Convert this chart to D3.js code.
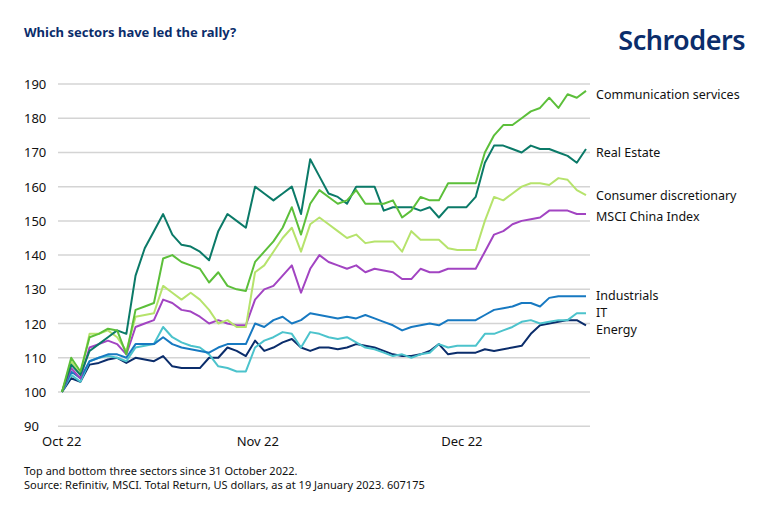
<!DOCTYPE html>
<meta charset="utf-8">
<head>
    <title>Which sectors have led the rally?</title>
    <script src="https://cdn.jsdelivr.net/npm/d3@7"></script>
</head>
<style>
    body { margin:0; background:#fff; font-family:"Noto Sans", "Open Sans", sans-serif; }
    .grid line { stroke:#d4d4d4; stroke-width:1.5; }
</style>
<body>
<svg id="chart" width="770" height="511"></svg>
<script>
    var seriesNames = ["Communication services","Real Estate","Consumer discretionary","MSCI China Index","Industrials","IT","Energy"];
    var seriesColors = ["#5cbf3a","#0b7a68","#b6e36c","#a244c2","#1779c1","#4cc3cc","#0b2d6b"];
    var comm = [100,110,106,116,117,118.5,118,111,124,125,126,139,140,138,137,136,132,135,131,130,129.5,138,141,144,148,154,146,155,159,157,155,156,159,155,155,155,156,151,153,157,156,156,161,161,161,161,170,175,178,178,180,182,183,186,183,187,186,188];
    var realEstate = [100,108,105,112,114,116,118,117,134,142,147,152,146,143,142.5,141,138.5,147,152,150,148,160,158,156,158,160,152,168,163,158,157,155,160,160,160,153,154,154,154,153,154,151,154,154,154,157,167,172,172,171,170,172,171,171,170,169,167,171];
    var consDisc = [100,109,105,117,117,118,116,112,122,122.5,123,131,129,127,129,127,124,120,121,119,119,135,137,141,145,148,141,149,151,149,147,145,146,143.5,144,144,144,141,147,144.5,144.5,144.5,142,141.5,141.5,141.5,150,157,156,158,160,161,161,160.5,162.5,162,159,157.5];
    var msci = [100,107,104,113,114,115,114,111,119,120,121,127,126,124,123.5,122,120,121,120,119.5,119.5,127,130,131,134,137,129,136,140,138,137,136,137,135,136,135.5,135,133,133,136,135,135,136,136,136,136,141,146,147,149,150,150.5,151,153,153,153,152,152];
    var industrials = [100,106,104,109,110,111,111,110,114,114,114,116,114,113,112.5,112,111.5,113,114,114,114,120,119,121,122,120,121,123,122.5,122,121.5,122,121.5,122.5,121.5,120.5,119.5,118,119,119.5,120,119.5,121,121,121,121,122.5,124,124.5,125,126,126,125,127.5,128,128,128,128];
    var it = [100,105,103,109,110,110.5,110,109,113,113.5,114,119,116,114.5,113.5,113,111,107.5,107,106,106,113,115,116,117.5,117,113,117.5,117,116,115.5,116,114.5,113,112.5,111.5,110.5,111,110,111,111.5,114,113,113.5,113.5,113.5,117,117,118,119,120.5,121,120,120.5,121,121,123,123];
    var energy = [100,104,103,108,108.5,109.5,110,108.5,110,109.5,109,110.5,107.5,107,107,107,110,110,113,112,110.5,115,112,113,114.5,115.5,113,112,113,113,112.5,113,114,113.5,113,112,111,110.5,110.5,111,112,114,111,111.5,111.5,111.5,112.5,112,112.5,113,113.5,117,119.5,120,120.5,121,121,119.5];
    var seriesValues = [comm, realEstate, consDisc, msci, industrials, it, energy];
    var labelYs = [94, 152, 195, 216, 295, 312, 329];
    var yTicks = [90,100,110,120,130,140,150,160,170,180,190];
    var xTickIdx = [0, 21.3, 43.5];
    var xTickLabels = ["Oct 22","Nov 22","Dec 22"];

    var svg = d3.select("#chart");
    var x = d3.scaleLinear().domain([0, comm.length - 1]).range([62, 586]);
    var y = d3.scaleLinear().domain([100, 190]).range([392, 84]);

    // gridlines + y labels
    var g = svg.append("g").attr("class", "grid");
    g.selectAll("line").data(yTicks).enter().append("line")
        .attr("x1", 58).attr("x2", 590)
        .attr("y1", function(d){ return y(d); }).attr("y2", function(d){ return y(d); });
    svg.selectAll(".ylab").data(yTicks).enter().append("text")
        .attr("x", 24).attr("y", function(d){ return y(d) + 5; })
        .attr("font-size", 13).attr("fill", "#111").text(function(d){ return d; });

    svg.selectAll(".xlab").data(xTickIdx).enter().append("text")
        .attr("x", function(d){ return x(d); }).attr("y", 446)
        .attr("text-anchor", function(d, i){ return i === 0 ? "start" : "middle"; })
        .attr("dx", function(d, i){ return i === 0 ? -20 : 0; })
        .attr("font-size", 13).attr("fill", "#111")
        .text(function(d, i){ return xTickLabels[i]; });

    var line = d3.line().x(function(d, i){ return x(i); }).y(function(d){ return y(d); });
    // draw bottom series first so top ones overlap like the original
    for (var k = seriesValues.length - 1; k >= 0; k--) {
        svg.append("path").datum(seriesValues[k])
            .attr("fill", "none").attr("stroke", seriesColors[k])
            .attr("stroke-width", 2).attr("stroke-linejoin", "round")
            .attr("d", line);
    }

    svg.selectAll(".slab").data(seriesNames).enter().append("text")
        .attr("x", 596).attr("y", function(d, i){ return labelYs[i] + 4.5; })
        .attr("font-size", 12.5).attr("fill", "#111").text(function(d){ return d; });

    svg.append("text").attr("x", 24).attr("y", 37)
        .attr("font-size", 13).attr("font-weight", "bold").attr("fill", "#0b2d6b")
        .text("Which sectors have led the rally?");
    svg.append("text").attr("x", 745).attr("y", 50).attr("text-anchor", "end")
        .attr("font-size", 27).attr("font-weight", 600).attr("fill", "#0b2d6b")
        .attr("letter-spacing", -0.5).text("Schroders");

    svg.append("text").attr("x", 24).attr("y", 475).attr("font-size", 11).attr("fill", "#111")
        .text("Top and bottom three sectors since 31 October 2022.");
    svg.append("text").attr("x", 24).attr("y", 489).attr("font-size", 11).attr("fill", "#111")
        .text("Source: Refinitiv, MSCI. Total Return, US dollars, as at 19 January 2023. 607175");
</script>
</body>
